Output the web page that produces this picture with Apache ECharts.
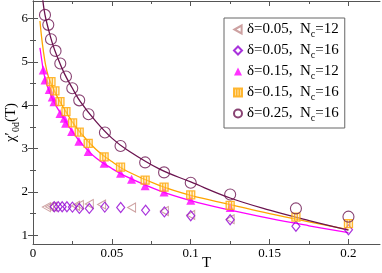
<!DOCTYPE html>
<html><head><meta charset="utf-8">
<script src="https://cdn.jsdelivr.net/npm/echarts@6/dist/echarts.min.js"></script>
<style>html,body{margin:0;padding:0;background:#fff}#c{width:382px;height:273px}</style>
</head><body><div id="c"></div>
<script>
// ---- data ----
const xMajor = [0, 0.05, 0.1, 0.15, 0.2];
const xMinor = [0.025, 0.075, 0.125, 0.175];
const yMajor = [1, 2, 3, 4, 5, 6];
const yMinor = [1.5, 2.5, 3.5, 4.5, 5.5];

const seriesNames = ['δ=0.05,  Nc=12', 'δ=0.05,  Nc=16', 'δ=0.15,  Nc=12', 'δ=0.15,  Nc=16', 'δ=0.25,  Nc=16'];

const T_d05_12 = [0.0085, 0.0105, 0.0125, 0.027, 0.0294, 0.0357, 0.0435, 0.0625, 0.0833, 0.1, 0.125];
const V_d05_12 = [1.65, 1.66, 1.66, 1.68, 1.70, 1.72, 1.71, 1.64, 1.56, 1.47, 1.37];

const T_d05_16 = [0.0135, 0.016, 0.0185, 0.0215, 0.025, 0.0294, 0.0357, 0.0455, 0.0556, 0.0714, 0.0833, 0.1, 0.125, 0.1667, 0.2];
const V_d05_16 = [1.66, 1.66, 1.66, 1.66, 1.65, 1.62, 1.62, 1.65, 1.64, 1.58, 1.54, 1.45, 1.36, 1.21, 1.13];

const T_d15_12 = [0.0065, 0.0076, 0.0103, 0.0122, 0.0133, 0.0171, 0.0198, 0.0207, 0.0245, 0.0291, 0.035, 0.0451, 0.0555, 0.0625, 0.0711, 0.0831, 0.1, 0.125];
const V_d15_12 = [4.81, 4.58, 4.36, 4.19, 4.08, 3.81, 3.70, 3.58, 3.39, 3.17, 2.93, 2.66, 2.43, 2.29, 2.14, 2.00, 1.81, 1.64];

const T_d15_16 = [0.0114, 0.0139, 0.0171, 0.0209, 0.0251, 0.0293, 0.035, 0.0451, 0.0555, 0.0711, 0.0831, 0.1, 0.125, 0.1667, 0.2];
const V_d15_16 = [4.54, 4.33, 4.08, 3.85, 3.59, 3.38, 3.12, 2.81, 2.57, 2.27, 2.11, 1.93, 1.69, 1.42, 1.27];

const T_d25_16 = [0.0076, 0.0097, 0.0114, 0.0143, 0.0173, 0.0209, 0.0249, 0.0293, 0.0352, 0.0456, 0.0555, 0.0711, 0.0831, 0.1, 0.125, 0.1667, 0.2];
const V_d25_16 = [6.08, 5.85, 5.52, 5.25, 4.96, 4.66, 4.39, 4.11, 3.79, 3.37, 3.06, 2.68, 2.45, 2.21, 1.94, 1.62, 1.43];

// fitted curves
const fitT_d15_12 = [0.0044, 0.0055, 0.0065, 0.008, 0.010, 0.0125, 0.015, 0.02, 0.025, 0.03, 0.04, 0.05, 0.06, 0.08, 0.1, 0.125, 0.15, 0.175, 0.2];
const fitV_d15_12 = [5.32, 5.05, 4.81, 4.56, 4.35, 4.13, 3.96, 3.67, 3.39, 3.15, 2.78, 2.54, 2.34, 2.03, 1.80, 1.58, 1.39, 1.22, 1.06];

const fitT_d15_16 = [0.0044, 0.0055, 0.0065, 0.008, 0.0097, 0.012, 0.015, 0.02, 0.025, 0.03, 0.04, 0.05, 0.06, 0.08, 0.1, 0.125, 0.15, 0.175, 0.2];
const fitV_d15_16 = [5.94, 5.55, 5.27, 4.92, 4.66, 4.45, 4.22, 3.90, 3.61, 3.37, 2.98, 2.70, 2.47, 2.15, 1.92, 1.71, 1.50, 1.31, 1.13];

const fitT_d25_16 = [0.0062, 0.0076, 0.01, 0.0125, 0.015, 0.02, 0.025, 0.03, 0.04, 0.05, 0.06, 0.08, 0.1, 0.125, 0.15, 0.175, 0.2];
const fitV_d25_16 = [6.42, 6.08, 5.72, 5.40, 5.15, 4.72, 4.39, 4.08, 3.62, 3.24, 2.96, 2.53, 2.23, 1.86, 1.58, 1.34, 1.12];

// ---- build ----
const zip = (a, b) => a.map((t, i) => [t, b[i]]);
const FONT = 'Liberation Serif';
const AX = '#555';
const cMaroon = '#6b1450', cOrange = '#ffa500', cMag = '#ff00ff', cViolet = '#9400d3', cRosy = '#c08a8a';
const sqPath = 'path://M0,0L10,0L10,10L0,10Z M3.3,0L3.3,10 M6.7,0L6.7,10';
const leftTri = 'path://M10,0L0,5.5L10,11Z';

function xAx(pos, vals, len, labels, line) {
  return {type: 'value', position: pos, min: 0, max: 0.22, gridIndex: 0,
    axisLine: {show: line, lineStyle: {color: AX, width: 1}},
    axisTick: {show: true, inside: true, length: len, customValues: vals, lineStyle: {color: AX}},
    axisLabel: {show: labels, customValues: vals, color: '#000', fontFamily: FONT, fontSize: 13, margin: 3},
    splitLine: {show: false}};
}
function yAx(pos, vals, len, labels, line) {
  return {type: 'value', position: pos, min: 0.8, max: 6.4, gridIndex: 0,
    axisLine: {show: line, lineStyle: {color: AX, width: 1}},
    axisTick: {show: true, inside: true, length: len, customValues: vals, lineStyle: {color: AX}},
    axisLabel: {show: labels, customValues: vals, color: '#000', fontFamily: FONT, fontSize: 13, margin: 5},
    splitLine: {show: false}};
}
const xAxes = [xAx('bottom', xMajor, 5, true, true), xAx('bottom', xMinor, 3, false, false),
               xAx('top', xMajor, 5, false, true), xAx('top', xMinor, 3, false, false)];
xAxes[0].name = 'T';
xAxes[0].nameLocation = 'middle';
xAxes[0].nameGap = 12;
xAxes[0].nameMoveOverlap = false;
xAxes[0].nameTextStyle = {fontFamily: FONT, fontSize: 15, color: '#000', verticalAlign: 'top'};
const yAxes = [yAx('left', yMajor, 5, true, true), yAx('left', yMinor, 3, false, false),
               yAx('right', yMajor, 5, false, true), yAx('right', yMinor, 3, false, false)];
yAxes[0].name = '{c|χ′}{s|0d}{c|(T)}';
yAxes[0].nameLocation = 'middle';
yAxes[0].nameGap = 12;
yAxes[0].nameRotate = 90;
yAxes[0].nameMoveOverlap = false;
yAxes[0].nameTextStyle = {rich: {
  c: {fontFamily: FONT, fontSize: 15, color: '#000'},
  s: {fontFamily: FONT, fontSize: 10, color: '#000', padding: [9, 0, 0, 0]}}};

function sc(name, T, V, symbol, size, itemStyle) {
  return {type: 'scatter', name, data: zip(T, V), symbol, symbolSize: size,
    itemStyle, xAxisIndex: 0, yAxisIndex: 0, z: 3};
}
function ln(T, V, color) {
  return {type: 'line', data: zip(T, V), showSymbol: false, symbol: 'none', smooth: 0.4,
    lineStyle: {color, width: 1.3}, xAxisIndex: 0, yAxisIndex: 0, z: 2, silent: true};
}

const series = [
  ln(fitT_d15_12, fitV_d15_12, cMag),
  ln(fitT_d15_16, fitV_d15_16, cOrange),
  ln(fitT_d25_16, fitV_d25_16, cMaroon),
  sc(seriesNames[0], T_d05_12, V_d05_12, leftTri, [8, 9], {color: 'rgba(0,0,0,0)', borderColor: cRosy, borderWidth: 1}),
  sc(seriesNames[1], T_d05_16, V_d05_16, 'diamond', [8, 10], {color: 'rgba(0,0,0,0)', borderColor: cViolet, borderWidth: 1.2}),
  sc(seriesNames[2], T_d15_12, V_d15_12, 'triangle', 9, {color: cMag}),
  sc(seriesNames[3], T_d15_16, V_d15_16, sqPath, 8, {color: 'rgba(255,230,170,0.6)', borderColor: cOrange, borderWidth: 1.3}),
  sc(seriesNames[4], T_d25_16, V_d25_16, 'circle', 11, {color: 'rgba(0,0,0,0)', borderColor: cMaroon, borderWidth: 1.1})
];

const chart = echarts.init(document.getElementById('c'), null, {renderer: 'canvas'});
chart.setOption({
  animation: false,
  backgroundColor: '#fff',
  grid: {left: 33, right: 2, top: 1, bottom: 29, containLabel: false, outerBoundsMode: 'none'},
  xAxis: xAxes,
  yAxis: yAxes,
  legend: {
    data: seriesNames, orient: 'vertical', left: 224, top: 18,
    backgroundColor: '#fff', borderColor: '#666', borderWidth: 1, borderRadius: 0,
    padding: [4, 6, 5, 9], itemWidth: 8, itemHeight: 8, itemGap: 4,
    formatter: function (n) {
      const m = n.match(/^(.*N)c(=.*)$/);
      return '{a|' + m[1] + '}{s|c}{a|' + m[2] + '}';
    },
    textStyle: {rich: {
      a: {fontFamily: FONT, fontSize: 15, color: '#000'},
      s: {fontFamily: FONT, fontSize: 10, color: '#000', padding: [9, 0, 0, 0]}}}
  },
  series
});
</script></body></html>
